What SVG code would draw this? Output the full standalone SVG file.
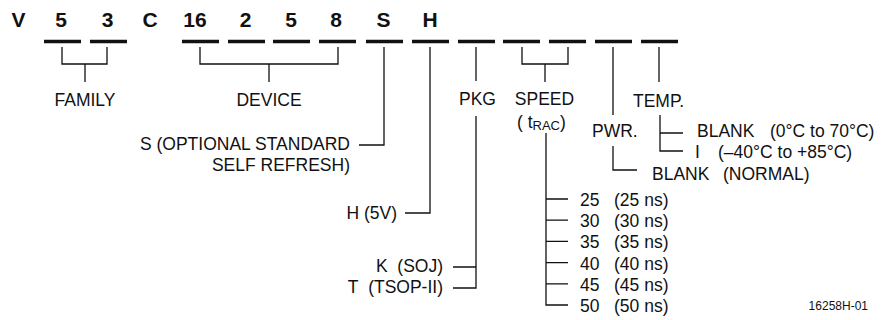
<svg xmlns="http://www.w3.org/2000/svg" width="886" height="320" viewBox="0 0 886 320">
<style>
text { font-family: "Liberation Sans", Arial, sans-serif; fill: #111; }
.code { font-size: 21px; font-weight: bold; text-anchor: middle; }
.lbl { font-size: 17.5px; }
.mid { text-anchor: middle; }
.end { text-anchor: end; }
.bar { stroke: #111; stroke-width: 3.5; fill: none; }
.ln { stroke: #111; stroke-width: 1.3; fill: none; }
.id { font-size: 12px; text-anchor: end; }
</style>
<rect width="886" height="320" fill="#fff"/>
<g id="code">
<text class="code" x="18.5" y="27">V</text>
<text class="code" x="61" y="27">5</text>
<text class="code" x="107.5" y="27">3</text>
<text class="code" x="150" y="27">C</text>
<text class="code" x="195" y="27">16</text>
<text class="code" x="245.5" y="27">2</text>
<text class="code" x="291" y="27">5</text>
<text class="code" x="336" y="27">8</text>
<text class="code" x="383.5" y="27">S</text>
<text class="code" x="430" y="27">H</text>
</g>
<g id="slots">
<path class="bar" d="M44,41.5h37 M90,41.5h37 M182,41.5h37 M228,41.5h37 M273,41.5h37 M319,41.5h37 M366,41.5h37 M412,41.5h37 M458,41.5h37 M503,41.5h37 M549,41.5h37 M595,41.5h37 M641,41.5h37"/>
</g>
<g id="connectors">
<path class="ln" d="M62,47V64H107V47M85,64V82"/>
<path class="ln" d="M200,47V64H338V47M269,64V82"/>
<path class="ln" d="M384,47V145H359"/>
<path class="ln" d="M430,47V213H405"/>
<path class="ln" d="M476,47V81M476,116V288H453M453,267H476"/>
<path class="ln" d="M522,47V64H568V47M545,64V82"/>
<path class="ln" d="M546,133V305H568M546,199H568M546,220.2H568M546,241.4H568M546,262.6H568M546,283.8H568"/>
<path class="ln" d="M613,47V115M613,146V170H637"/>
<path class="ln" d="M659,47V82M660,115V151H683M660,133H683"/>
</g>
<g id="family"><text class="lbl mid" x="85" y="106">FAMILY</text></g>
<g id="device"><text class="lbl mid" x="269" y="106">DEVICE</text></g>
<g id="self-refresh">
<text class="lbl end" x="350" y="150">S (OPTIONAL STANDARD</text>
<text class="lbl end" x="350" y="171">SELF REFRESH)</text>
</g>
<g id="voltage"><text class="lbl end" x="397" y="219">H (5V)</text></g>
<g id="pkg">
<text class="lbl mid" x="477.5" y="105">PKG</text>
<text class="lbl end" x="443" y="272">K&#160;&#160;(SOJ)</text>
<text class="lbl end" x="443" y="293">T&#160;&#160;(TSOP-II)</text>
</g>
<g id="speed">
<text class="lbl mid" x="544.5" y="105">SPEED</text>
<text class="lbl" x="517" y="127.5">(&#160;t<tspan font-size="13" dy="2.5">RAC</tspan><tspan dy="-2.5">)</tspan></text>
<text class="lbl" y="206"><tspan x="580">25</tspan><tspan x="614">(25 ns)</tspan></text>
<text class="lbl" y="227.2"><tspan x="580">30</tspan><tspan x="614">(30 ns)</tspan></text>
<text class="lbl" y="248.4"><tspan x="580">35</tspan><tspan x="614">(35 ns)</tspan></text>
<text class="lbl" y="269.6"><tspan x="580">40</tspan><tspan x="614">(40 ns)</tspan></text>
<text class="lbl" y="290.8"><tspan x="580">45</tspan><tspan x="614">(45 ns)</tspan></text>
<text class="lbl" y="312"><tspan x="580">50</tspan><tspan x="614">(50 ns)</tspan></text>
</g>
<g id="pwr">
<text class="lbl" x="592" y="137">PWR.</text>
<text class="lbl" y="180"><tspan x="652">BLANK</tspan><tspan x="723">(NORMAL)</tspan></text>
</g>
<g id="temp">
<text class="lbl" x="633" y="107">TEMP.</text>
<text class="lbl" y="137"><tspan x="697">BLANK</tspan><tspan x="770">(0°C to 70°C)</tspan></text>
<text class="lbl" y="157.5"><tspan x="695">I</tspan><tspan x="718">(–40°C to +85°C)</tspan></text>
</g>
<g id="figure-id"><text class="id" x="868" y="310">16258H-01</text></g>
</svg>
